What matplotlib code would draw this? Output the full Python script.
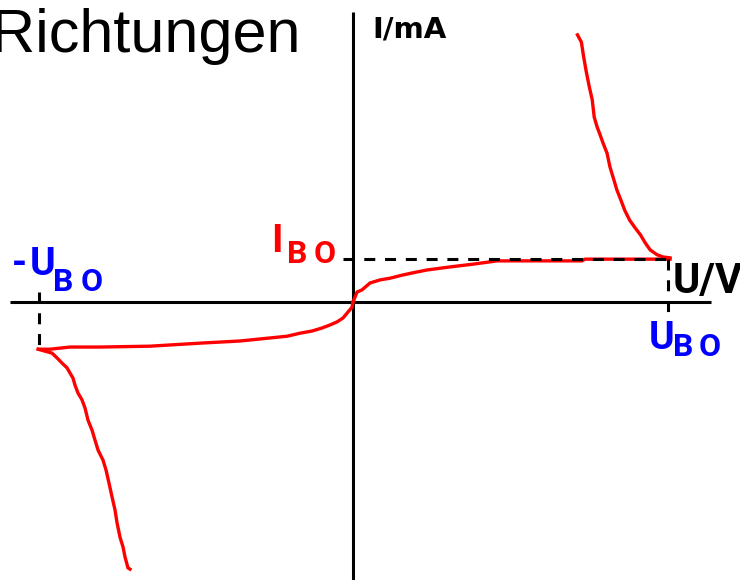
import numpy as np
import matplotlib.pyplot as plt
from matplotlib.transforms import Affine2D

# Diac characteristic: U in V, I in mA
U_BO = 32.0
I_BO = 1.0
U_BO_neg = -31.9
I_BO_neg = -1.09

# forward blocking region, origin up to breakover
u_fwd = [0, 0.41, 0.91, 1.73, 2.74, 3.76, 4.98, 5.99, 7.52, 9.85, 12.39,
         14.63, 23.26, 23.57, 32.2]
i_fwd = [0, 0.23, 0.28, 0.44, 0.51, 0.55, 0.62, 0.67, 0.74, 0.81, 0.88,
         0.95, 0.95, 0.99, 0.99]

# forward negative-resistance branch after breakover
u_up = [32.2, 31.5, 30.9, 30.2, 29.7, 29.2, 28.6, 28.1, 27.6, 27.2, 26.8,
        26.5, 26.1, 25.8, 25.4, 25.1, 24.8, 24.5, 24.3, 24.0, 23.7, 23.4,
        23.2, 22.8]
i_up = [1.02, 1.04, 1.09, 1.20, 1.36, 1.55, 1.73, 1.89, 2.12, 2.36, 2.59,
        2.82, 3.12, 3.44, 3.67, 3.86, 4.04, 4.27, 4.67, 4.97, 5.31, 5.70,
        6.00, 6.17]

# reverse blocking region
u_rev = [0, -0.10, -0.51, -1.02, -1.63, -2.34, -3.15, -4.17, -5.38, -6.70,
         -8.43, -11.48, -15.54, -20.62, -25.70, -28.75, -30.78, -31.90]
i_rev = [0, -0.12, -0.23, -0.37, -0.46, -0.53, -0.60, -0.67, -0.72, -0.79,
         -0.83, -0.90, -0.95, -1.02, -1.04, -1.04, -1.09, -1.09]

# reverse negative-resistance branch
u_down = [-32.0, -30.58, -30.07, -29.56, -29.05, -28.75, -28.44, -28.24,
          -27.94, -27.53, -27.22, -26.92, -26.51, -26.21, -25.90, -25.40,
          -25.09, -24.79, -24.48, -24.18, -23.97, -23.67, -23.36, -23.16,
          -22.86, -22.65]
i_down = [-1.09, -1.18, -1.29, -1.41, -1.52, -1.64, -1.76, -1.92, -2.10,
          -2.26, -2.45, -2.73, -2.96, -3.19, -3.42, -3.65, -3.88, -4.18,
          -4.50, -4.80, -5.10, -5.43, -5.66, -5.89, -6.14, -6.17]

fig = plt.figure(figsize=(7.4, 5.8), dpi=100)
ax = fig.add_axes([0, 0, 1, 1])
ax.set_xlim(-35.86, 39.31)
ax.set_ylim(-6.42, 6.975)
ax.axis('off')

# axes cross
ax.plot([-34.8, 36.4], [0, 0], color='black', lw=2.2, solid_capstyle='butt')
ax.plot([0, 0], [6.70, -6.42], color='black', lw=2.2, solid_capstyle='butt')

# curve
red = '#ff0000'
for u, i in [(u_fwd, i_fwd), (u_up, i_up), (u_rev, i_rev), (u_down, i_down)]:
    ax.plot(u, i, color=red, lw=2.4, solid_joinstyle='miter')

# breakover guide lines
dash = dict(color='black', lw=2.2, dashes=(3.6, 3.2), dash_capstyle='butt')
ax.plot([-1.02, U_BO], [I_BO, I_BO], **dash)
ax.plot([U_BO, U_BO], [I_BO, -0.35], **dash)
ax.plot([U_BO_neg, U_BO_neg], [0.23, I_BO_neg], **dash)

# labels placed in pixel coordinates (origin top-left)
px = Affine2D().scale(1 / 740, -1 / 580).translate(0, 1) + fig.transFigure

ax.text(300, 52, 'Richtungen', transform=px, ha='right', va='baseline',
        fontsize=44, family='Liberation Sans')
ax.text(372, 38, 'I/mA', transform=px, ha='left', va='baseline',
        fontsize=21, fontweight='bold', family='DejaVu Sans')
ax.text(673, 293, 'U/V', transform=px, ha='left', va='baseline',
        fontsize=30, fontweight='bold', family='Roboto')

blue = '#0000ff'
big = dict(fontsize=28, fontweight='bold', family='Roboto', ha='center',
           va='baseline', transform=px)
small = dict(fontsize=23, fontweight='bold', family='Roboto', ha='center',
             va='baseline', transform=px)

# I_BO
ax.text(277, 252, 'I', color=red, **big)
ax.text(297.5, 263, 'B', color=red, **small)
ax.text(325, 263, 'O', color=red, **small)

# -U_BO
ax.text(19, 275, '-', color=blue, **big)
ax.text(42.5, 275, 'U', color=blue, **big)
ax.text(63.5, 291, 'B', color=blue, **small)
ax.text(92, 291, 'O', color=blue, **small)

# U_BO
ax.text(661.5, 349, 'U', color=blue, **big)
ax.text(683.5, 356, 'B', color=blue, **small)
ax.text(710, 356, 'O', color=blue, **small)

fig.savefig('out.png', dpi=100)
